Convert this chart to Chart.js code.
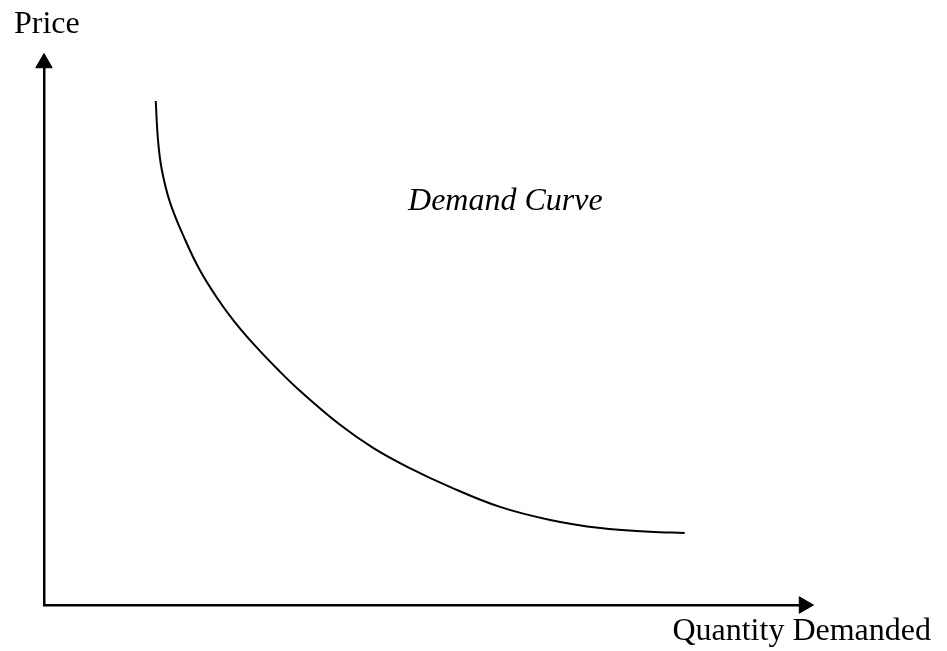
<!DOCTYPE html>
<html>
<head>
<meta charset="utf-8">
<script src="https://cdn.jsdelivr.net/npm/chart.js@4.4.0/dist/chart.umd.min.js"></script>
<style>
  body { margin: 0; background: #fff; }
</style>
</head>
<body>
<canvas id="demand_chart" width="947" height="651"></canvas>
<script>
// curve, axes run 0..100
const quantity_values = [14.7, 15.0, 15.5, 16.6, 18.6, 20.5, 22.8, 25.1, 27.8, 30.8, 33.7, 39.0, 43.3, 47.8, 53.4, 60.0, 66.6, 73.2, 79.7, 84.3]
const price_values = [93.0, 85.8, 80.3, 74.2, 67.3, 61.8, 56.6, 52.2, 47.8, 43.4, 39.5, 33.2, 29.0, 25.5, 21.8, 18.1, 15.7, 14.2, 13.5, 13.3]

const y_label = "Price"
const x_label = "Quantity Demanded"
const curve_label = "Demand Curve"

// arrow heads sit at the far end of each axis
const arrow_points = [{ x: 0, y: 100 }, { x: 100, y: 0 }]
const arrow_rotation = [0, 90]

function build_points(xs, ys) {
  let pts = []
  for (let i = 0; i < xs.length; i++) {
    pts.push({ x: xs[i], y: ys[i] })
  }
  return pts
}

const label_plugin = {
  id: "label_plugin",
  afterDraw(chart) {
    let ctx = chart.ctx
    let xs = chart.scales.x
    let ys = chart.scales.y
    ctx.save()
    ctx.fillStyle = "#000"
    ctx.textBaseline = "alphabetic"
    ctx.font = "32px 'Liberation Serif'"
    ctx.textAlign = "left"
    ctx.fillText(y_label, 14, 33)
    ctx.textAlign = "right"
    ctx.fillText(x_label, 931, 640)
    ctx.font = "italic 32px 'Liberation Serif'"
    ctx.textAlign = "left"
    ctx.fillText(curve_label, xs.getPixelForValue(47.9), ys.getPixelForValue(72.9))
    ctx.restore()
  }
}

let ctx1 = document.getElementById("demand_chart").getContext("2d")

new Chart(ctx1, {
  type: "scatter",
  data: {
    datasets: [{
      data: build_points(quantity_values, price_values),
      showLine: true,
      borderColor: "#000",
      borderWidth: 2,
      pointRadius: 0,
      tension: 0.4,
      fill: false
    }, {
      data: arrow_points,
      showLine: false,
      pointStyle: "triangle",
      pointRadius: 9.5,
      rotation: arrow_rotation,
      backgroundColor: "#000",
      borderColor: "#000",
      borderWidth: 1,
      clip: false
    }]
  },
  options: {
    responsive: false,
    animation: false,
    layout: { padding: { left: 36, right: 143, top: 63, bottom: 38 } },
    plugins: {
      legend: { display: false },
      tooltip: { enabled: false },
      title: { display: false }
    },
    scales: {
      x: {
        type: "linear", min: 0, max: 100,
        grid: { display: false },
        ticks: { display: false },
        border: { display: true, color: "#000", width: 2.5 }
      },
      y: {
        type: "linear", min: 0, max: 100,
        grid: { display: false },
        ticks: { display: false },
        border: { display: true, color: "#000", width: 2.5 }
      }
    }
  },
  plugins: [label_plugin]
})
</script>
</body>
</html>
